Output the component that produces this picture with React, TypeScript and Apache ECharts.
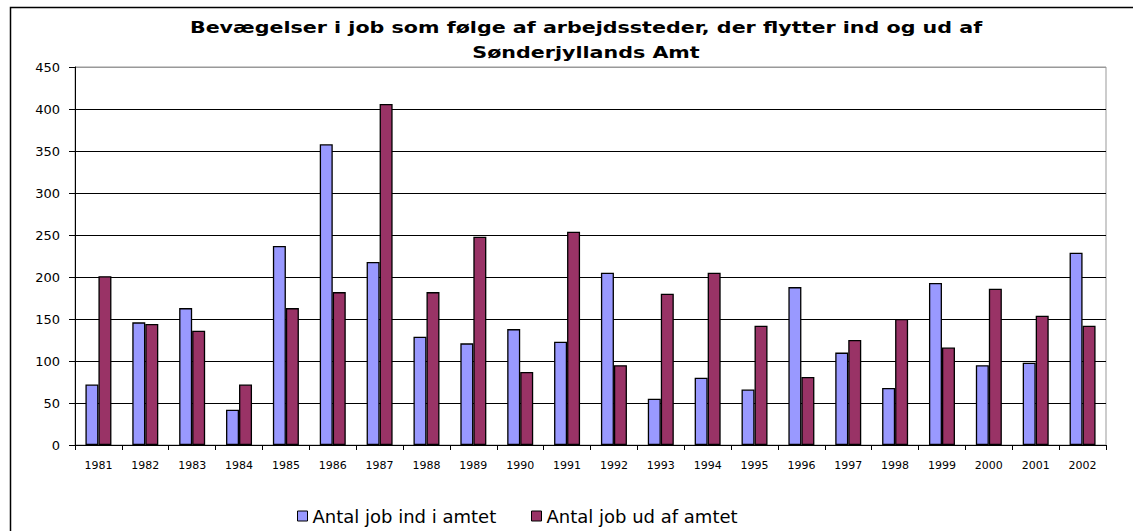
import React, { useEffect, useRef } from "react";
import * as echarts from "echarts";

const years = ["1981","1982","1983","1984","1985","1986","1987","1988","1989","1990","1991","1992","1993","1994","1995","1996","1997","1998","1999","2000","2001","2002"];
const jobsIn = [72,146,163,42,237,358,218,129,121,138,123,205,55,80,66,188,110,68,193,95,98,229];
const jobsOut = [201,144,136,72,163,182,406,182,248,87,254,95,180,205,142,81,125,150,116,186,154,142];
const seriesNames = ["Antal job ind i amtet", "Antal job ud af amtet"];
const titleText = "Bevægelser i job som følge af arbejdssteder, der flytter ind og ud af\nSønderjyllands Amt";

const FONT = '"DejaVu Sans", Arial, sans-serif';

export default function App() {
  const ref = useRef<HTMLDivElement>(null);
  useEffect(() => {
    if (!ref.current) return;
    const chart = echarts.init(ref.current, null, { renderer: "svg" });
    const legendCommon = {
      top: 502,
      icon: "rect",
      itemWidth: 10,
      itemHeight: 10,
      itemStyle: { borderColor: "#000", borderWidth: 1 },
      textStyle: { fontFamily: FONT, fontSize: 18, color: "#000" },
    };
    chart.setOption({
      animation: false,
      backgroundColor: "#fff",
      textStyle: { fontFamily: FONT },
      graphic: [
        {
          type: "rect",
          shape: { x: 10.5, y: 7.5, width: 1300, height: 700 },
          style: { fill: "none", stroke: "#000", lineWidth: 1.5 },
          silent: true,
          z: -1,
        },
        {
          type: "text",
          x: 586,
          y: 40,
          scaleX: 1.29,
          style: {
            text: titleText,
            textAlign: "center",
            textVerticalAlign: "middle",
            fontFamily: FONT,
            fontSize: 16,
            fontWeight: "bold",
            lineHeight: 25,
            fill: "#000",
          },
        },
      ],
      legend: [
        { ...legendCommon, left: 292, data: [seriesNames[0]] },
        { ...legendCommon, left: 526, data: [seriesNames[1]] },
      ],
      grid: { left: 75, top: 67, right: 27, bottom: 86, show: true, borderColor: "#999", borderWidth: 1 },
      xAxis: {
        type: "category",
        data: years,
        axisLine: { lineStyle: { color: "#000", width: 1 } },
        axisTick: { show: true, alignWithLabel: false, length: 5, lineStyle: { color: "#000" } },
        axisLabel: { fontFamily: FONT, fontSize: 11, color: "#000", margin: 15 },
      },
      yAxis: {
        type: "value",
        min: 0,
        max: 450,
        interval: 50,
        axisLine: { show: true, lineStyle: { color: "#000", width: 1 } },
        axisTick: { show: true, length: 6, lineStyle: { color: "#000" } },
        axisLabel: { fontFamily: FONT, fontSize: 13, color: "#000", margin: 15 },
        splitLine: {
          show: true,
          lineStyle: { color: ["#000","#000","#000","#000","#000","#000","#000","#000","#000","#999"], width: 1 },
        },
      },
      series: [
        {
          name: seriesNames[0],
          type: "bar",
          data: jobsIn,
          barWidth: 13,
          barGap: "0%",
          itemStyle: { color: "#9999FF", borderColor: "#000", borderWidth: 1.3 },
        },
        {
          name: seriesNames[1],
          type: "bar",
          data: jobsOut,
          barWidth: 13,
          barGap: "0%",
          itemStyle: { color: "#993366", borderColor: "#000", borderWidth: 1.3 },
        },
      ],
    });
    return () => chart.dispose();
  }, []);
  return <div ref={ref} style={{ position: "fixed", left: 0, top: 0, width: 1133, height: 531 }} />;
}
